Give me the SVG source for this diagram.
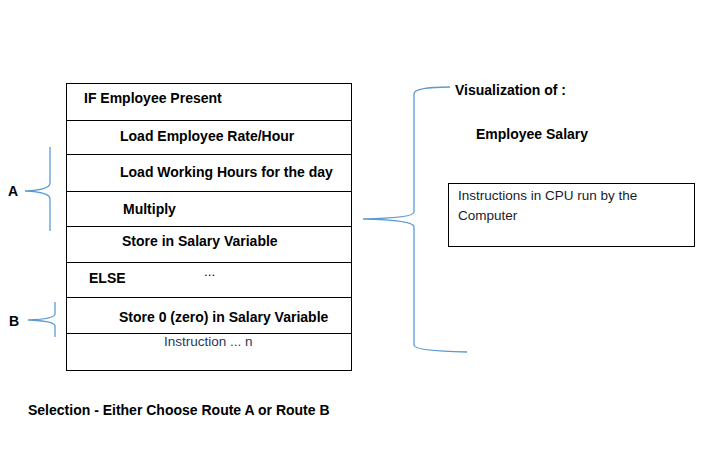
<svg xmlns="http://www.w3.org/2000/svg" width="707" height="450" viewBox="0 0 707 450">
<style>
.b{font-family:"Liberation Sans",Arial,sans-serif;font-weight:bold;font-size:14px;fill:#000}
.n{font-family:"Liberation Sans",Arial,sans-serif;font-size:13.5px}
.box{fill:#fff;stroke:#000;stroke-width:1}
.br{fill:none;stroke:#5B9BD5;stroke-width:1.3}
</style>
<rect width="707" height="450" fill="#fff"/>
<g id="table">
<rect class="box" x="66.5" y="83.5" width="285" height="287"/>
<g stroke="#000" stroke-width="1">
<line x1="66" y1="120.5" x2="351" y2="120.5"/>
<line x1="66" y1="154.5" x2="351" y2="154.5"/>
<line x1="66" y1="191.5" x2="351" y2="191.5"/>
<line x1="66" y1="226.5" x2="351" y2="226.5"/>
<line x1="66" y1="262.5" x2="351" y2="262.5"/>
<line x1="66" y1="297.5" x2="351" y2="297.5"/>
<line x1="66" y1="333.5" x2="351" y2="333.5"/>
</g>
</g>
<g id="row1"><text class="b" x="84" y="103">IF Employee Present</text></g>
<g id="row2"><text class="b" x="120" y="141">Load Employee Rate/Hour</text></g>
<g id="row3"><text class="b" x="120" y="177">Load Working Hours for the day</text></g>
<g id="row4"><text class="b" x="123" y="214">Multiply</text></g>
<g id="row5"><text class="b" x="122" y="246">Store in Salary Variable</text></g>
<g id="row6"><text class="b" x="89" y="283">ELSE</text><text class="n" x="204" y="276" fill="#000">...</text></g>
<g id="row7"><text class="b" x="119" y="322">Store 0 (zero) in Salary Variable</text></g>
<g id="row8"><text class="n" x="164" y="346" fill="#1F3864">Instruction ... n</text></g>
<g id="labelA"><text class="b" x="8" y="196">A</text></g>
<g id="labelB"><text class="b" x="9" y="326">B</text></g>
<g id="vis">
<text class="b" x="455" y="95">Visualization of :</text>
<text class="b" x="476" y="139">Employee Salary</text>
</g>
<g id="cpu">
<rect class="box" x="448.5" y="183.5" width="246" height="63"/>
<text class="n" x="458" y="200" fill="#1a1a2e">Instructions in CPU run by the</text>
<text class="n" x="458" y="220" fill="#1a1a2e">Computer</text>
</g>
<g id="connectors">
<path class="br" d="M50 147 V183 Q50 190 25 191 Q50 192 50 199 V231"/>
<path class="br" d="M55 302 V314 Q55 319 28 320 Q55 321 55 326 V337"/>
<path class="br" d="M450 87 Q414 87 414 94 V212 Q414 218 363 219 Q414 220 414 227 V345 Q414 351 467 352"/>
</g>
<g id="caption"><text class="b" x="28" y="415">Selection - Either Choose Route A or Route B</text></g>
</svg>
